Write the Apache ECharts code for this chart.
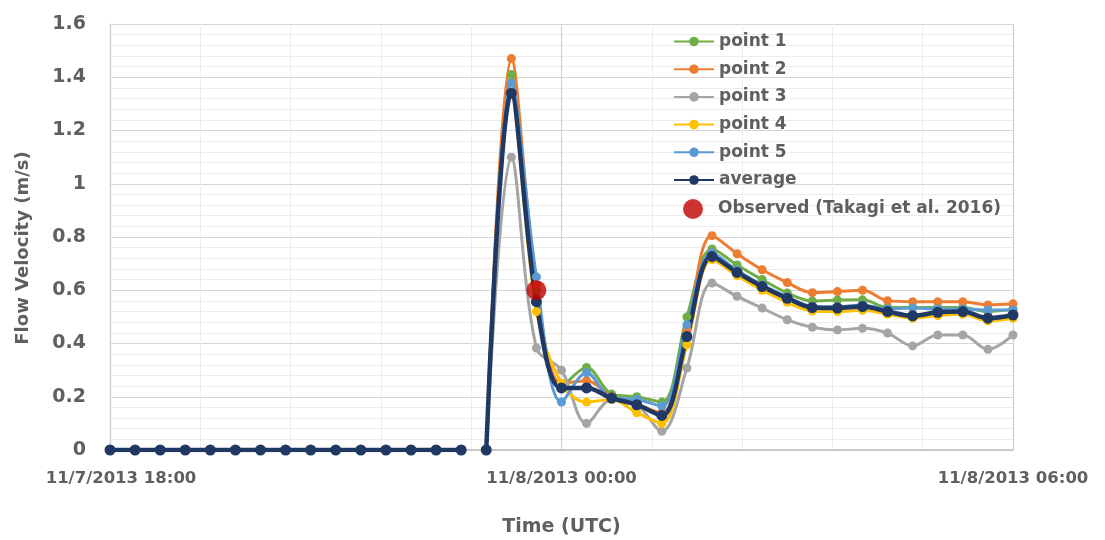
<!DOCTYPE html>
<html>
<head>
<meta charset="utf-8">
<style>
  html, body { margin: 0; padding: 0; background: #ffffff; }
  #chart { width: 1105px; height: 540px; }
</style>
<script src="https://cdn.jsdelivr.net/npm/echarts@6/dist/echarts.min.js"></script>
</head>
<body>
<div id="chart"></div>
<script>
// Sample times (UTC), every 20 minutes from 11/7 18:00 to 11/8 06:00
const times = [
  '18:00','18:20','18:40','19:00','19:20','19:40','20:00','20:20','20:40',
  '21:00','21:20','21:40','22:00','22:20','22:40','23:00','23:20','23:40',
  '00:00','00:20','00:40','01:00','01:20','01:40','02:00','02:20','02:40',
  '03:00','03:20','03:40','04:00','04:20','04:40','05:00','05:20','05:40','06:00'
];
// the record is interrupted before this time
const breakBefore = '23:00';

const point1 = [0,0,0,0,0,0,0,0,0,0,0,0,0,0,0,0,
  1.41,0.60,0.24,0.31,0.21,0.20,0.18,0.50,0.755,0.695,0.64,0.59,0.56,0.563,0.564,0.535,0.535,0.535,0.535,0.52,0.53];
const point2 = [0,0,0,0,0,0,0,0,0,0,0,0,0,0,0,0,
  1.47,0.62,0.25,0.26,0.20,0.17,0.14,0.45,0.805,0.737,0.677,0.629,0.591,0.595,0.60,0.561,0.557,0.557,0.557,0.545,0.549];
const point3 = [0,0,0,0,0,0,0,0,0,0,0,0,0,0,0,0,
  1.10,0.383,0.30,0.10,0.19,0.17,0.07,0.308,0.627,0.577,0.533,0.489,0.461,0.451,0.457,0.439,0.391,0.432,0.432,0.378,0.432];
const point4 = [0,0,0,0,0,0,0,0,0,0,0,0,0,0,0,0,
  1.34,0.52,0.25,0.18,0.19,0.14,0.10,0.395,0.715,0.655,0.60,0.555,0.522,0.52,0.525,0.51,0.495,0.505,0.51,0.485,0.495];
const point5 = [0,0,0,0,0,0,0,0,0,0,0,0,0,0,0,0,
  1.378,0.65,0.18,0.29,0.195,0.19,0.165,0.47,0.74,0.675,0.62,0.575,0.54,0.538,0.545,0.53,0.533,0.53,0.53,0.526,0.526];
const average = [0,0,0,0,0,0,0,0,0,0,0,0,0,0,0,0,
  1.34,0.557,0.233,0.233,0.195,0.17,0.13,0.426,0.727,0.667,0.614,0.57,0.535,0.533,0.539,0.52,0.504,0.517,0.52,0.495,0.507];

// Observed velocity (Takagi et al. 2016)
const observedTime = '23:40';
const observedValue = 0.60;

// x axis tick labels
const tickLabels = { 0: '11/7/2013 18:00', 360: '11/8/2013 00:00', 720: '11/8/2013 06:00' };

// minutes elapsed since 18:00 on 11/7
function toMinutes(t) {
  const [h, m] = t.split(':').map(Number);
  let mins = (h - 18) * 60 + m;
  if (mins < 0) mins += 24 * 60;
  return mins;
}

function pairs(values) {
  const out = [];
  times.forEach((t, i) => {
    if (t === breakBefore) out.push([toMinutes(t), '-']);
    out.push([toMinutes(t), values[i]]);
  });
  return out;
}

const FONT = '"DejaVu Sans", Verdana, sans-serif';
const TEXT = '#5f5f5f';
const OBS_NAME = 'Observed (Takagi et al. 2016)';

function lineSeries(name, values, color, width, symbolSize) {
  return {
    name: name,
    type: 'line',
    data: pairs(values),
    smooth: 0.35,
    connectNulls: false,
    symbol: 'circle',
    symbolSize: symbolSize,
    showSymbol: true,
    lineStyle: { color: color, width: width },
    itemStyle: { color: color },
    emphasis: { disabled: true },
    animation: false
  };
}

const legendText = { fontFamily: FONT, fontSize: 17, fontWeight: 'bold', color: TEXT };

const chart = echarts.init(document.getElementById('chart'));
chart.setOption({
  backgroundColor: '#ffffff',
  animation: false,
  grid: { left: 110, right: 92, top: 24, bottom: 90, outerBoundsMode: 'none' },
  legend: [
    {
      orient: 'vertical',
      left: 668,
      top: 28,
      itemWidth: 40,
      itemHeight: 12,
      itemGap: 10.7,
      textStyle: legendText,
      data: ['point 1', 'point 2', 'point 3', 'point 4', 'point 5', 'average']
    },
    {
      orient: 'vertical',
      left: 678,
      top: 194,
      itemWidth: 40,
      itemHeight: 20,
      textStyle: legendText,
      data: [{ name: OBS_NAME, icon: 'circle', itemStyle: { color: '#C00000' } }]
    }
  ],
  xAxis: {
    type: 'value',
    min: 0,
    max: 720,
    interval: 360,
    name: 'Time (UTC)',
    nameLocation: 'middle',
    nameGap: 68,
    nameTextStyle: { fontFamily: FONT, fontSize: 19, fontWeight: 'bold', color: TEXT },
    axisLine: { show: true, lineStyle: { color: '#BFBFBF', width: 1.5 } },
    axisTick: { show: false },
    axisLabel: {
      margin: 20,
      fontFamily: FONT, fontSize: 16.5, fontWeight: 'bold', color: TEXT,
      formatter: v => v === 0 ? '{first|' + tickLabels[v] + '}' : (tickLabels[v] || ''),
      rich: {
        first: { fontFamily: FONT, fontSize: 16.5, fontWeight: 'bold', color: TEXT, padding: [0, 0, 0, 22] }
      }
    },
    splitLine: { show: true, lineStyle: { color: '#D0D0D0', width: 1.2 } },
    minorTick: { show: false, splitNumber: 5 },
    minorSplitLine: { show: true, lineStyle: { color: '#EDEDED', width: 1 } }
  },
  yAxis: {
    type: 'value',
    min: 0,
    max: 1.6,
    interval: 0.2,
    name: 'Flow Velocity (m/s)',
    nameLocation: 'middle',
    nameGap: 78,
    nameTextStyle: { fontFamily: FONT, fontSize: 18, fontWeight: 'bold', color: TEXT, padding: [0, 22, 0, 0] },
    axisLine: { show: true, lineStyle: { color: '#D0D0D0', width: 1.2 } },
    axisTick: { show: false },
    axisLabel: {
      margin: 24,
      fontFamily: FONT, fontSize: 19, fontWeight: 'bold', color: TEXT,
      formatter: v => String(Math.round(v * 10) / 10)
    },
    splitLine: { show: true, lineStyle: { color: '#D6D6D6', width: 1.2 } },
    minorTick: { show: false, splitNumber: 5 },
    minorSplitLine: { show: true, lineStyle: { color: '#ECECEC', width: 1 } }
  },
  series: [
    lineSeries('point 1', point1, '#70AD47', 3, 9),
    lineSeries('point 2', point2, '#ED7D31', 3, 9),
    lineSeries('point 3', point3, '#A5A5A5', 3, 9),
    lineSeries('point 4', point4, '#FFC000', 3, 9),
    lineSeries('point 5', point5, '#5B9BD5', 3, 9),
    lineSeries('average', average, '#203864', 4.5, 11),
    {
      name: OBS_NAME,
      type: 'scatter',
      data: [[toMinutes(observedTime), observedValue]],
      symbol: 'circle',
      symbolSize: 20,
      itemStyle: { color: '#C00000' },
      emphasis: { disabled: true },
      z: 5
    }
  ]
});
</script>
</body>
</html>
